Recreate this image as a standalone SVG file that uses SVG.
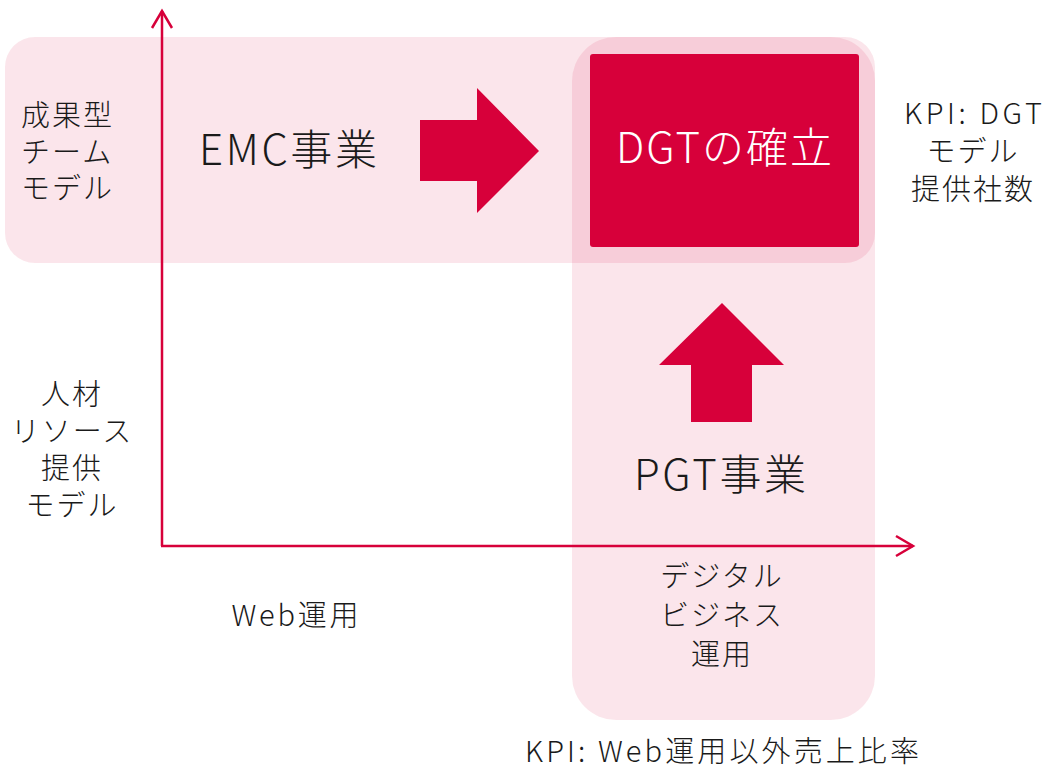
<svg xmlns="http://www.w3.org/2000/svg" width="1048" height="767" viewBox="0 0 1048 767">
<style>
.band{fill:#D7003A;fill-opacity:0.1}
.red{fill:#D7003A}
.t{font-family:"Noto Sans CJK JP","Noto Sans",sans-serif;font-weight:300;fill:#1a1a1a;text-anchor:middle}
.s28{font-size:29px;letter-spacing:2px}
.s42{font-size:42px}
.l{text-anchor:start}
.w{fill:#ffffff}
.axis{stroke:#D7003A;stroke-width:2.5;fill:none}
</style>
<defs>
<marker id="chev" markerUnits="userSpaceOnUse" markerWidth="30" markerHeight="30" viewBox="-20 -15 30 30" refX="0" refY="0" orient="auto">
<path d="M-17,-10 L0,0 L-17,10" fill="none" stroke="#D7003A" stroke-width="2.5"/>
</marker>
</defs>
<g id="bands">
<rect id="band-h" class="band" x="5" y="37" width="870" height="226" rx="30"/>
<rect id="band-v" class="band" x="572" y="37" width="303" height="683" rx="44"/>
</g>
<g id="connectors">
<line class="axis" x1="162" y1="546" x2="162" y2="11" marker-end="url(#chev)"/>
<line class="axis" x1="161" y1="546" x2="913" y2="546" marker-end="url(#chev)"/>
<polygon class="red" points="420,120 477,120 477,88 539,151 477,213 477,181 420,181"/>
<polygon class="red" points="722,303 784,365 752,365 752,422 691,422 691,365 659,365"/>
</g>
<g id="node-seika">
<text class="t s28 l" x="21" y="126">成果型</text>
<text class="t s28 l" x="21" y="163">チーム</text>
<text class="t s28 l" x="21" y="199">モデル</text>
</g>
<g id="node-emc">
<text class="t s42" x="288" y="165" textLength="178">EMC事業</text>
</g>
<g id="node-dgt">
<rect class="red" x="590" y="54" width="269" height="193" rx="3"/>
<text class="t s42 w" x="724" y="163" textLength="216">DGTの確立</text>
</g>
<g id="node-kpi-dgt">
<text class="t s28" x="973" y="124" textLength="138" style="letter-spacing:0">KPI: DGT</text>
<text class="t s28" x="973" y="162">モデル</text>
<text class="t s28" x="973" y="200">提供社数</text>
</g>
<g id="node-jinzai">
<text class="t s28" x="72" y="405">人材</text>
<text class="t s28" x="72" y="442">リソース</text>
<text class="t s28" x="72" y="479">提供</text>
<text class="t s28" x="72" y="516">モデル</text>
</g>
<g id="node-pgt">
<text class="t s42" x="720" y="490" textLength="172">PGT事業</text>
</g>
<g id="node-web">
<text class="t s28" x="295" y="626" textLength="127" style="letter-spacing:0">Web運用</text>
</g>
<g id="node-digital">
<text class="t s28" x="722" y="587">デジタル</text>
<text class="t s28" x="722" y="626">ビジネス</text>
<text class="t s28" x="722" y="665">運用</text>
</g>
<g id="node-kpi-web">
<text class="t s28" x="722" y="762" textLength="394" style="letter-spacing:0">KPI: Web運用以外売上比率</text>
</g>
</svg>
